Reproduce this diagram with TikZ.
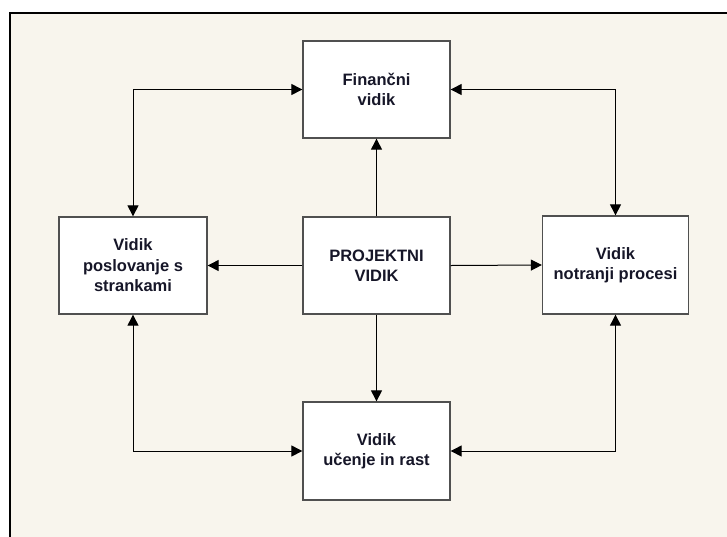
\documentclass[tikz,border=0pt]{standalone}
\usepackage{fontspec}
\setmainfont{Liberation Sans}
\usetikzlibrary{arrows.meta}
\definecolor{paper}{RGB}{248,245,237}
\definecolor{boxline}{RGB}{80,80,80}
\definecolor{ink}{RGB}{22,22,40}
\begin{document}
\begin{tikzpicture}[x=1pt,y=-1pt,
  persp/.style={draw=boxline, line width=1.3pt, fill=white,
    minimum width=147pt, minimum height=97pt, inner sep=0pt,
    align=center, text=ink,
    font=\fontsize{16.5pt}{20.5pt}\selectfont\bfseries},
  tip/.style={Triangle[length=11pt,width=11pt]},
  link/.style={draw=black, line width=1pt, -{Triangle[length=11pt,width=11pt]}},
  twoway/.style={draw=black, line width=1pt,
    {Triangle[length=11pt,width=11pt]}-{Triangle[length=11pt,width=11pt]}}]
  % page and frame
  \useasboundingbox (0,0) rectangle (727,536);
  \fill[white] (0,0) rectangle (727,536);
  \fill[paper] (10,13) rectangle (740,550);
  \draw[line width=1.8pt] (10,550) -- (10,13) -- (740,13);

  % perspectives
  \node[persp] (fin)  at (376.5,89.5)  {Finančni\\vidik};
  \node[persp, minimum width=148pt] (cust) at (133,265.5) {Vidik\\poslovanje s\\strankami};
  \node[persp, minimum width=146pt, minimum height=98pt] (proc) at (615.5,265) {Vidik\\notranji procesi};
  \node[persp] (proj) at (376.5,265.5) {PROJEKTNI\\VIDIK};
  \node[persp, minimum height=98pt] (learn) at (376.5,451) {Vidik\\učenje in rast};

  % from the project view outwards
  \draw[link] (proj.north) -- (fin.south);
  \draw[link] (proj.south) -- (learn.north);
  \draw[link] (proj.west) -- (cust.east);
  \draw[link] (proj.east) -- (proc.west);

  % links around the outer ring
  \draw[twoway] (fin.west) -| (cust.north);
  \draw[twoway] (fin.east) -| (proc.north);
  \draw[twoway] (cust.south) |- (learn.west);
  \draw[twoway] (proc.south) |- (learn.east);
\end{tikzpicture}
\end{document}
